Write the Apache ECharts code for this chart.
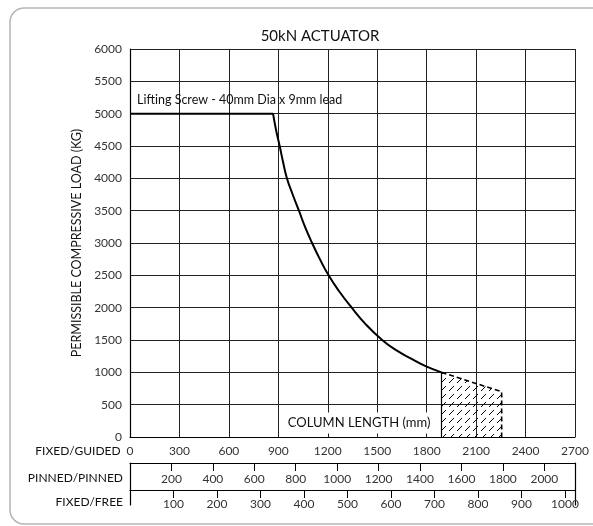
<!DOCTYPE html>
<html><head><meta charset="utf-8">
<script src="https://cdn.jsdelivr.net/npm/echarts@6/dist/echarts.min.js"></script>
<style>html,body{margin:0;padding:0;background:#fff}#c{width:593px;height:526px}</style>
</head><body><div id="c"></div>
<script>
// ---- data ----
const titleText = '50kN ACTUATOR';
const yName = 'PERMISSIBLE COMPRESSIVE LOAD (KG)';
const flatX = [0, 868];
const flatY = [5000, 5000];
const curveX = [868, 886, 908, 929, 952, 987, 1025, 1062, 1105, 1152, 1205, 1270, 1345, 1428, 1530, 1610, 1700, 1790, 1890];
const curveY = [5000, 4750, 4500, 4250, 4000, 3750, 3500, 3250, 3000, 2750, 2500, 2250, 2000, 1750, 1500, 1350, 1220, 1100, 1000];
const hatchX = [1890, 2255, 2255, 1890];
const hatchY = [1000, 700, 0, 0];
const axisNames = ['FIXED/GUIDED', 'PINNED/PINNED', 'FIXED/FREE'];
const axisMax = [2700, 2148, 1023];
const axisStep = [300, 200, 100];
const yMax = 6000, yStep = 500;
const screwLabel = 'Lifting Screw - 40mm Dia x 9mm lead';
const lengthLabel = 'COLUMN LENGTH (mm)';
const screwAnchor = [0, 5000];
const lengthAnchor = [1390, 215];

// ---- chart ----
const FF = 'Lato, "Open Sans", sans-serif';
const chart = echarts.init(document.getElementById('c'), null, {renderer: 'canvas'});

const pc = document.createElement('canvas');
pc.width = 8; pc.height = 8;
const g = pc.getContext('2d');
g.strokeStyle = '#000'; g.lineWidth = 1;
g.beginPath(); g.moveTo(1, 7); g.lineTo(6, 2); g.stroke();

const lineCol = '#000';
const plain = (v) => String(Math.round(v));
const nameStyle = (pad) => ({color: '#111', fontSize: 12, fontFamily: FF, align: 'right', verticalAlign: 'top', padding: [pad, 0, 0, 0]});

const option = {
  animation: false,
  backgroundColor: '#fff',
  title: {text: titleText, left: 315, textAlign: 'center', top: 24,
    textStyle: {fontFamily: FF, fontSize: 15, fontWeight: 'normal', color: '#111'}},
  grid: [
    {left: 130, right: 18, top: 49, bottom: 89},
    {left: 130, right: 18, top: 463, bottom: 21}
  ],
  xAxis: [
    {gridIndex: 0, type: 'value', min: 0, max: axisMax[0], interval: axisStep[0], position: 'bottom',
      axisLine: {onZero: false, lineStyle: {color: lineCol, width: 1.2}}, axisTick: {show: false},
      splitLine: {show: true, lineStyle: {color: '#222', width: 1}},
      axisLabel: {color: '#333', fontSize: 12, fontFamily: FF, margin: 8, formatter: plain},
      name: axisNames[0], nameLocation: 'start', nameGap: 7, nameTextStyle: nameStyle(8)},
    {gridIndex: 1, type: 'value', min: 0, max: axisMax[1], interval: axisStep[1], position: 'top',
      axisLine: {onZero: false, lineStyle: {color: lineCol, width: 1.2}},
      axisTick: {inside: true, length: 8, lineStyle: {color: lineCol}},
      splitLine: {show: false},
      axisLabel: {inside: true, margin: 10, color: '#333', fontSize: 12, fontFamily: FF, showMinLabel: false, showMaxLabel: false, formatter: plain},
      name: axisNames[1], nameLocation: 'start', nameGap: 7, nameTextStyle: nameStyle(9)},
    {gridIndex: 1, type: 'value', min: 0, max: axisMax[2], interval: axisStep[2], position: 'bottom', offset: -15,
      axisLine: {onZero: false, lineStyle: {color: lineCol, width: 1.2}},
      axisTick: {length: 8, lineStyle: {color: lineCol}},
      splitLine: {show: false},
      axisLabel: {margin: 8, color: '#333', fontSize: 12, fontFamily: FF, showMinLabel: false, showMaxLabel: false, formatter: plain},
      name: axisNames[2], nameLocation: 'start', nameGap: 7, nameTextStyle: nameStyle(6)}
  ],
  yAxis: [
    {gridIndex: 0, type: 'value', min: 0, max: yMax, interval: yStep,
      axisLine: {show: true, onZero: false, lineStyle: {color: lineCol, width: 1.2}}, axisTick: {show: false},
      splitLine: {show: true, lineStyle: {color: '#222', width: 1}},
      axisLabel: {color: '#333', fontSize: 12, fontFamily: FF, margin: 8, formatter: plain},
      name: yName, nameLocation: 'middle', nameGap: 44,
      nameTextStyle: {color: '#111', fontSize: 12.5, fontFamily: FF}},
    {gridIndex: 1, type: 'value', min: 0, max: 1, position: 'left',
      axisLine: {show: true, onZero: false, lineStyle: {color: lineCol, width: 1.2}},
      axisTick: {show: false}, axisLabel: {show: false}, splitLine: {show: false}},
    {gridIndex: 1, type: 'value', min: 0, max: 1, position: 'right',
      axisLine: {show: true, onZero: false, lineStyle: {color: lineCol, width: 1.2}},
      axisTick: {show: false}, axisLabel: {show: false}, splitLine: {show: false}}
  ],
  series: [
    {type: 'custom', xAxisIndex: 0, yAxisIndex: 0, z: 3,
      data: hatchX.map((x, i) => [x, hatchY[i]]),
      renderItem: function (params, api) {
        if (params.dataIndex !== 0) return null;
        const pts = hatchX.map((x, i) => api.coord([x, hatchY[i]]));
        return {type: 'group', children: [
          {type: 'polygon', shape: {points: pts}, style: {fill: {image: pc, repeat: 'repeat'}, stroke: null}},
          {type: 'line', shape: {x1: pts[3][0], y1: pts[3][1], x2: pts[0][0], y2: pts[0][1]},
            style: {stroke: '#000', lineWidth: 1.2}},
          {type: 'polyline', shape: {points: [pts[0], pts[1], pts[2]]},
            style: {stroke: '#000', lineWidth: 1.6, lineDash: [5, 3], fill: null}}
        ]};
      }},
    {type: 'line', xAxisIndex: 0, yAxisIndex: 0, showSymbol: false, z: 4,
      data: flatX.map((x, i) => [x, flatY[i]]),
      lineStyle: {color: '#000', width: 2}},
    {type: 'line', xAxisIndex: 0, yAxisIndex: 0, showSymbol: false, z: 4,
      smooth: 0.5,
      data: curveX.map((x, i) => [x, curveY[i]]),
      lineStyle: {color: '#000', width: 2}}
  ]
};
chart.setOption(option);

const ps = chart.convertToPixel({gridIndex: 0}, screwAnchor);
const pl = chart.convertToPixel({gridIndex: 0}, lengthAnchor);
chart.setOption({
  graphic: [
    {type: 'rect', z: -10, silent: true, shape: {x: 10, y: 8, width: 640, height: 516, r: 14},
      style: {fill: null, stroke: '#b5b5b5', lineWidth: 1.5}},
    {type: 'text', z: 100, x: ps[0] + 7, y: ps[1] - 7,
      style: {text: screwLabel, fill: '#111', font: '12.5px ' + FF, textAlign: 'left', textVerticalAlign: 'bottom'}},
    {type: 'text', z: 100, x: pl[0], y: pl[1],
      style: {text: lengthLabel, fill: '#111', font: '13px ' + FF, textAlign: 'center', textVerticalAlign: 'middle',
        backgroundColor: '#fff', padding: [4, 4, 4, 4]}}
  ]
});
</script>
</body></html>
